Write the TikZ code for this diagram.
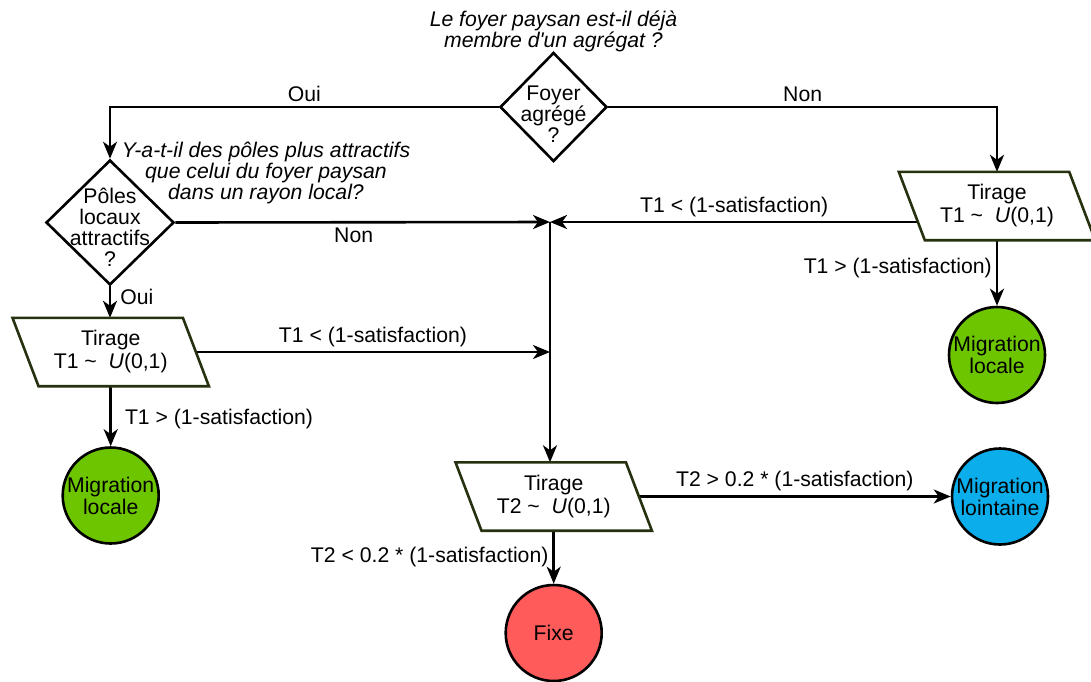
\documentclass[tikz,border=0pt]{standalone}
\usepackage{fontspec}
\setmainfont{Liberation Sans}[Ligatures=TeXOff]
\usetikzlibrary{shapes.geometric,arrows.meta,calc}
\definecolor{cgreen}{RGB}{109,197,0}
\definecolor{cblue}{RGB}{11,174,235}
\definecolor{cred}{RGB}{255,91,91}
\definecolor{cpar}{RGB}{38,50,15}
\pgfdeclarelayer{bg}
\pgfdeclarelayer{lines}
\pgfdeclarelayer{shapes}
\pgfsetlayers{bg,lines,shapes,main}
\begin{document}
\begin{tikzpicture}[x=1pt,y=-1pt,
  txt/.style={align=center, inner sep=0pt, font=\fontsize{21.2}{21}\selectfont},
  qtxt/.style={align=center, inner sep=0pt, font=\fontsize{21.2}{21}\selectfont\itshape},
  decision/.style={diamond, draw=black, line width=2.6pt, fill=white, inner sep=0pt},
  tirage/.style={rectangle, minimum height=68pt, minimum width=170pt, inner sep=0pt,
    align=center, font=\fontsize{21.2}{23}\selectfont},
  parbox/.style={draw=cpar, line width=2.6pt, fill=white, line join=miter},
  state/.style={circle, draw=black, line width=2.6pt, minimum size=96pt, inner sep=0pt,
    align=center, font=\fontsize{21.2}{22}\selectfont},
  conn/.style={line width=2.6pt, -{Stealth[length=17pt,width=14pt,inset=5pt]}},
  lbl/.style={inner sep=4pt, font=\fontsize{21.2}{22}\selectfont}
]
\useasboundingbox (0,0) rectangle (1091,681);
\begin{pgfonlayer}{bg}
\fill[white] (0,0) rectangle (1091,681);
\end{pgfonlayer}

% question texts
\node[qtxt] (q1) at (553.5,31) {Le foyer paysan est-il déjà\\membre d'un agrégat ?};
\node[qtxt] (q2) at (266,173) {Y-a-t-il des pôles plus attractifs\\que celui du foyer paysan\\dans un rayon local?};

% decisions
\node[decision, minimum width=107pt, minimum height=109pt] (d1) at (553.5,107) {};
\node[txt] (d1t) at (553.5,114) {Foyer\\agrégé\\?};
\node[decision, minimum width=128pt, minimum height=125pt] (d2) at (110,222.5) {};
\node[txt] (d2t) at (110,227) {Pôles\\locaux\\attractifs\\?};

% draws (parallelograms)
\node[tirage] (p1) at (110.7,352) {Tirage\\T1 \textasciitilde\ \ \textit{U}(0,1)};
\node[tirage] (p2) at (997,206) {Tirage\\T1 \textasciitilde\ \ \textit{U}(0,1)};
\node[tirage] (p3) at (553.7,496.5) {Tirage\\T2 \textasciitilde\ \ \textit{U}(0,1)};
\begin{pgfonlayer}{shapes}
\foreach \p in {p1,p2,p3}{
  \draw[parbox] ($(\p.north west)+(-13,0)$) -- ($(\p.north east)+(-13,0)$)
    -- ($(\p.south east)+(13,0)$) -- ($(\p.south west)+(13,0)$) -- cycle;
}
\end{pgfonlayer}

% outcomes
\node[state, fill=cgreen] (c1) at (110.7,495.5) {Migration\\locale};
\node[state, fill=cgreen] (c2) at (997,355) {Migration\\locale};
\node[state, fill=cblue] (c3) at (1000,496.5) {Migration\\lointaine};
\node[state, fill=cred] (c4) at (553.7,633) {Fixe};

\coordinate (J) at (550,222);
\coordinate (J2) at (550,352);

\begin{pgfonlayer}{lines}
\draw[conn] (d1.west) -| node[lbl, above, pos=0.25] (lOui1) {Oui} (d2.north);
\draw[conn] (d1.east) -| node[lbl, above, pos=0.25] (lNon1) {Non} (p2.north);
\draw[conn] (d2.east) -- node[lbl, below, pos=0.476] (lNon2) {Non} (J);
\draw[conn] (J -| p2.center) -- node[lbl, above, pos=0.588] (lT1a) {T1 < (1-satisfaction)} (J);
\draw[conn] (d2.south) -- node[lbl, right, pos=0.33, xshift=5pt] (lOui2) {Oui} (d2.south |- p1.north);
\draw[conn] (p1) -- node[lbl, above] (lT1b) {T1 < (1-satisfaction)} (J2);
\draw[conn] (p1) -- node[lbl, right, pos=0.55, xshift=9pt] (lT1c) {T1 > (1-satisfaction)} (c1);
\draw[conn] (p2.south) -- node[lbl, left, pos=0.43] (lT1d) {T1 > (1-satisfaction)} (c2);
\draw[conn] (J) -- (J |- p3.north);
\draw[conn] (p3) -- node[lbl, above] (lT2a) {T2 > 0.2 * (1-satisfaction)} (c3);
\draw[conn] (p3) -- node[lbl, left] (lT2b) {T2 < 0.2 * (1-satisfaction)} (c4);
\end{pgfonlayer}
\end{tikzpicture}
\end{document}
